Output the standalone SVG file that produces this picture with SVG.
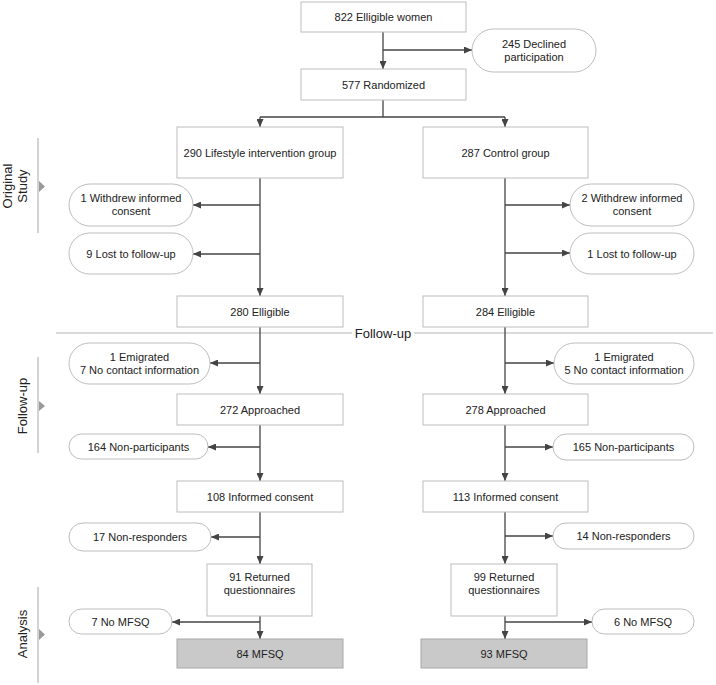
<svg xmlns="http://www.w3.org/2000/svg" width="716" height="685" viewBox="0 0 716 685">
<defs>
<style>
text{font-family:"Liberation Sans",Arial,sans-serif;font-size:11px;fill:#222;text-anchor:middle}
.sec{font-size:13px}
.box{fill:#fff;stroke:#bdbdbd;stroke-width:1}
.gbox{fill:#c9c9c9;stroke:#a8a8a8;stroke-width:1}
.rnd{fill:#fff;stroke:#bdbdbd;stroke-width:1}
.c{fill:none;stroke:#444;stroke-width:1.3}
.a{marker-end:url(#ah)}
.g{stroke:#b5b5b5;stroke-width:1.2;fill:none}
.tri{fill:#9a9a9a}
</style>
<marker id="ah" viewBox="0 0 8 7" refX="8" refY="3.5" markerWidth="8" markerHeight="7" orient="auto" markerUnits="userSpaceOnUse"><path d="M0,0 L8,3.5 L0,7 z" fill="#444"/></marker>
</defs>

<g id="sections">
<line class="g" x1="38" y1="138" x2="38" y2="233"/>
<path class="tri" d="M39,181 L45,186.5 L39,192 z"/>
<text class="sec" transform="translate(12,186) rotate(-90)"><tspan x="0" y="0">Original</tspan><tspan x="0" y="15">Study</tspan></text>
<line class="g" x1="38" y1="357" x2="38" y2="453"/>
<path class="tri" d="M39,401 L45,406 L39,411 z"/>
<text class="sec" transform="translate(27,406) rotate(-90)">Follow-up</text>
<line class="g" x1="38" y1="587" x2="38" y2="683"/>
<path class="tri" d="M39,629 L45,634.5 L39,640 z"/>
<text class="sec" transform="translate(27,634) rotate(-90)">Analysis</text>
<line class="g" x1="56" y1="333" x2="352" y2="333"/>
<line class="g" x1="414" y1="333" x2="713" y2="333"/>
<text class="sec" x="383" y="338">Follow-up</text>
</g>

<g id="connectors">
<path class="c a" d="M383,32 V69"/>
<path class="c a" d="M383,50 H472"/>
<path class="c" d="M383,100 V117 M260,117 H505"/>
<path class="c a" d="M260,117 V127"/>
<path class="c a" d="M505,117 V127"/>
<path class="c a" d="M260,178 V296"/>
<path class="c a" d="M260,205 H193"/>
<path class="c a" d="M260,254 H193"/>
<path class="c a" d="M505,178 V296"/>
<path class="c a" d="M505,205 H570"/>
<path class="c a" d="M505,253 H570"/>
<path class="c a" d="M260,327 V394"/>
<path class="c a" d="M260,363 H210"/>
<path class="c a" d="M260,425 V481"/>
<path class="c a" d="M260,447 H208"/>
<path class="c a" d="M260,512 V564"/>
<path class="c a" d="M260,537 H211"/>
<path class="c a" d="M260,616 V639"/>
<path class="c a" d="M260,622 H172"/>
<path class="c a" d="M505,327 V394"/>
<path class="c a" d="M505,363 H554"/>
<path class="c a" d="M505,425 V481"/>
<path class="c a" d="M505,447 H553"/>
<path class="c a" d="M505,512 V564"/>
<path class="c a" d="M505,536 H553"/>
<path class="c a" d="M505,616 V639"/>
<path class="c a" d="M505,622 H592"/>
</g>

<g id="n822"><rect class="box" x="301" y="2" width="165" height="30"/><text x="383.5" y="21">822 Elligible women</text></g>
<g id="n245"><rect class="rnd" x="472" y="29" width="124" height="43" rx="21.5"/><text x="534" y="47.5">245 Declined</text><text x="534" y="60.5">participation</text></g>
<g id="n577"><rect class="box" x="301" y="69" width="165" height="31"/><text x="383.5" y="88.5">577 Randomized</text></g>

<g id="n290"><rect class="box" x="177" y="127" width="166" height="51"/><text x="260" y="156.5">290 Lifestyle intervention group</text></g>
<g id="n287"><rect class="box" x="423" y="127" width="165" height="51"/><text x="505.5" y="156.5">287 Control group</text></g>
<g id="nW1"><rect class="rnd" x="69" y="184" width="124" height="42" rx="21"/><text x="131" y="202">1 Withdrew informed</text><text x="131" y="215">consent</text></g>
<g id="nL9"><rect class="rnd" x="69" y="233" width="124" height="41" rx="20.5"/><text x="131" y="257.5">9 Lost to follow-up</text></g>
<g id="nW2"><rect class="rnd" x="570" y="184" width="124" height="42" rx="21"/><text x="632" y="202">2 Withdrew informed</text><text x="632" y="215">consent</text></g>
<g id="nL1"><rect class="rnd" x="570" y="233" width="124" height="41" rx="20.5"/><text x="632" y="257.5">1 Lost to follow-up</text></g>
<g id="n280"><rect class="box" x="177" y="296" width="166" height="31"/><text x="260" y="315.5">280 Elligible</text></g>
<g id="n284"><rect class="box" x="423" y="296" width="165" height="31"/><text x="505.5" y="315.5">284 Elligible</text></g>

<g id="nE7"><rect class="rnd" x="69" y="343" width="141" height="41" rx="20.5"/><text x="139.5" y="360.5">1 Emigrated</text><text x="139.5" y="373.5">7 No contact information</text></g>
<g id="n272"><rect class="box" x="177" y="394" width="166" height="31"/><text x="260" y="413.5">272 Approached</text></g>
<g id="n164"><rect class="rnd" x="69" y="434" width="139" height="25" rx="12.5"/><text x="138.5" y="450.5">164 Non-participants</text></g>
<g id="n108"><rect class="box" x="177" y="481" width="166" height="31"/><text x="260" y="500.5">108 Informed consent</text></g>
<g id="nE5"><rect class="rnd" x="554" y="343" width="140" height="41" rx="20.5"/><text x="624" y="360.5">1 Emigrated</text><text x="624" y="373.5">5 No contact information</text></g>
<g id="n278"><rect class="box" x="423" y="394" width="165" height="31"/><text x="505.5" y="413.5">278 Approached</text></g>
<g id="n165"><rect class="rnd" x="553" y="434" width="141" height="26" rx="13"/><text x="623.5" y="451">165 Non-participants</text></g>
<g id="n113"><rect class="box" x="423" y="481" width="165" height="31"/><text x="505.5" y="500.5">113 Informed consent</text></g>

<g id="n17"><rect class="rnd" x="69" y="523" width="142" height="28" rx="14"/><text x="140" y="541">17 Non-responders</text></g>
<g id="n91"><rect class="box" x="207" y="564" width="105" height="52"/><text x="259.5" y="581">91 Returned</text><text x="259.5" y="594">questionnaires</text></g>
<g id="n7"><rect class="rnd" x="69" y="609" width="103" height="25" rx="12.5"/><text x="120.5" y="625.5">7 No MFSQ</text></g>
<g id="n84"><rect class="gbox" x="177" y="639" width="166" height="29"/><text x="260" y="657.5">84 MFSQ</text></g>
<g id="n14"><rect class="rnd" x="553" y="523" width="141" height="26" rx="13"/><text x="623.5" y="540">14 Non-responders</text></g>
<g id="n99"><rect class="box" x="451" y="564" width="106" height="52"/><text x="504" y="581">99 Returned</text><text x="504" y="594">questionnaires</text></g>
<g id="n6"><rect class="rnd" x="592" y="609" width="102" height="25" rx="12.5"/><text x="643" y="625.5">6 No MFSQ</text></g>
<g id="n93"><rect class="gbox" x="421" y="639" width="166" height="29"/><text x="504" y="657.5">93 MFSQ</text></g>
</svg>
